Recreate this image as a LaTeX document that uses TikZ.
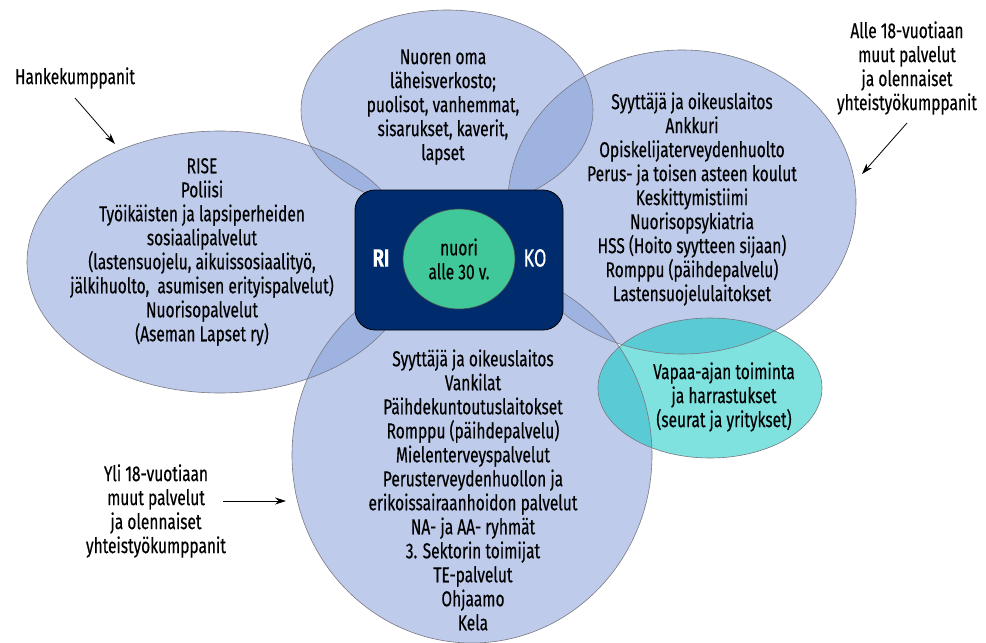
\documentclass[tikz,border=0pt]{standalone}
\usepackage{fontspec}
\setmainfont[FakeStretch=0.72,FakeBold=0.35]{Fira Sans}
\usetikzlibrary{arrows.meta,shapes.geometric}
\definecolor{blu}{RGB}{131,156,216}
\definecolor{tealf}{RGB}{127,226,223}
\definecolor{tealo}{RGB}{90,203,213}
\definecolor{navy}{RGB}{0,43,108}
\definecolor{grn}{RGB}{64,200,154}
\definecolor{edgec}{RGB}{120,120,130}
\begin{document}
\begin{tikzpicture}[x=1pt,y=-1pt,
  txt/.style={align=center,inner sep=0pt,font=\fontsize{21.5}{24}\selectfont},
  bluefill/.style={fill=blu,fill opacity=0.52},
  edgeline/.style={draw=edgec,line width=0.6pt},
  arr/.style={-{Stealth[length=11pt,width=7pt]},line width=0.8pt}]
\useasboundingbox (0,0) rectangle (986,643);
% blue fills
\fill[bluefill] (447,110) ellipse [x radius=146,y radius=100];
\fill[bluefill] (220,262) ellipse [x radius=193,y radius=131];
\fill[bluefill] (682,202) ellipse [x radius=174,y radius=152];
\fill[bluefill] (472,455) ellipse [x radius=180,y radius=188];
% teal
\fill[tealf] (710,388) ellipse [x radius=112,y radius=70];
\begin{scope}
  \clip (710,388) ellipse [x radius=112,y radius=70];
  \fill[tealo] (682,202) ellipse [x radius=174,y radius=152];
  \fill[tealo] (472,455) ellipse [x radius=180,y radius=188];
\end{scope}
% outlines
\draw[edgeline] (447,110) ellipse [x radius=146,y radius=100];
\draw[edgeline] (220,262) ellipse [x radius=193,y radius=131];
\draw[edgeline] (682,202) ellipse [x radius=174,y radius=152];
\draw[edgeline] (472,455) ellipse [x radius=180,y radius=188];
\draw[edgeline] (710,388) ellipse [x radius=112,y radius=70];
% centre box
\node[draw=black,line width=0.8pt,fill=navy,rounded corners=20pt,minimum width=208pt,minimum height=140pt] (box) at (459,260) {};
\node[ellipse,draw=black!70,line width=0.6pt,fill=grn,minimum width=112pt,minimum height=100pt,inner sep=0pt,txt] (nuori) at (459,259) {nuori\\alle 30 v.};
\node[txt,text=white,font=\fontsize{25}{24}\selectfont\bfseries] (ri) at (381,258) {RI};
\node[txt,text=white,font=\fontsize{25}{24}\selectfont] (ko) at (535,258) {KO};
% texts
\node[txt] (top) at (443,107) {Nuoren oma\\läheisverkosto;\\puolisot, vanhemmat,\\sisarukset, kaverit,\\lapset};
\node[txt] (right) at (692,199) {Syyttäjä ja oikeuslaitos\\Ankkuri\\Opiskelijaterveydenhuolto\\Perus- ja toisen asteen koulut\\Keskittymistiimi\\Nuorisopsykiatria\\HSS (Hoito syytteen sijaan)\\Romppu (päihdepalvelu)\\Lastensuojelulaitokset};
\node[txt] (left) at (202,252) {RISE\\Poliisi\\Työikäisten ja lapsiperheiden\\sosiaalipalvelut\\(lastensuojelu, aikuissosiaalityö,\\jälkihuolto,\ \ asumisen erityispalvelut)\\Nuorisopalvelut\\(Aseman Lapset ry)};
\node[txt] (bottom) at (473,490) {Syyttäjä ja oikeuslaitos\\Vankilat\\Päihdekuntoutuslaitokset\\Romppu (päihdepalvelu)\\Mielenterveyspalvelut\\Perusterveydenhuollon ja\\erikoissairaanhoidon palvelut\\NA- ja AA- ryhmät\\3. Sektorin toimijat\\TE-palvelut\\Ohjaamo\\Kela};
\node[txt] (vapaa) at (724,397) {Vapaa-ajan toiminta\\ja harrastukset\\(seurat ja yritykset)};
% annotations
\node[txt] (hanke) at (75,78) {Hankekumppanit};
\node[txt] (alle) at (907,68) {Alle 18-vuotiaan\\muut palvelut\\ja olennaiset\\yhteistyökumppanit};
\node[txt] (yli) at (156,511) {Yli 18-vuotiaan\\muut palvelut\\ja olennaiset\\yhteistyökumppanit};
\coordinate (hs) at (75,98);
\coordinate (he) at (115,144);
\coordinate (as) at (907,123);
\coordinate (ae) at (862,174);
\coordinate (ys) at (223,501);
\coordinate (ye) at (286,501);
\draw[arr] (hs) -- (he);
\draw[arr] (as) -- (ae);
\draw[arr] (ys) -- (ye);
\end{tikzpicture}
\end{document}
